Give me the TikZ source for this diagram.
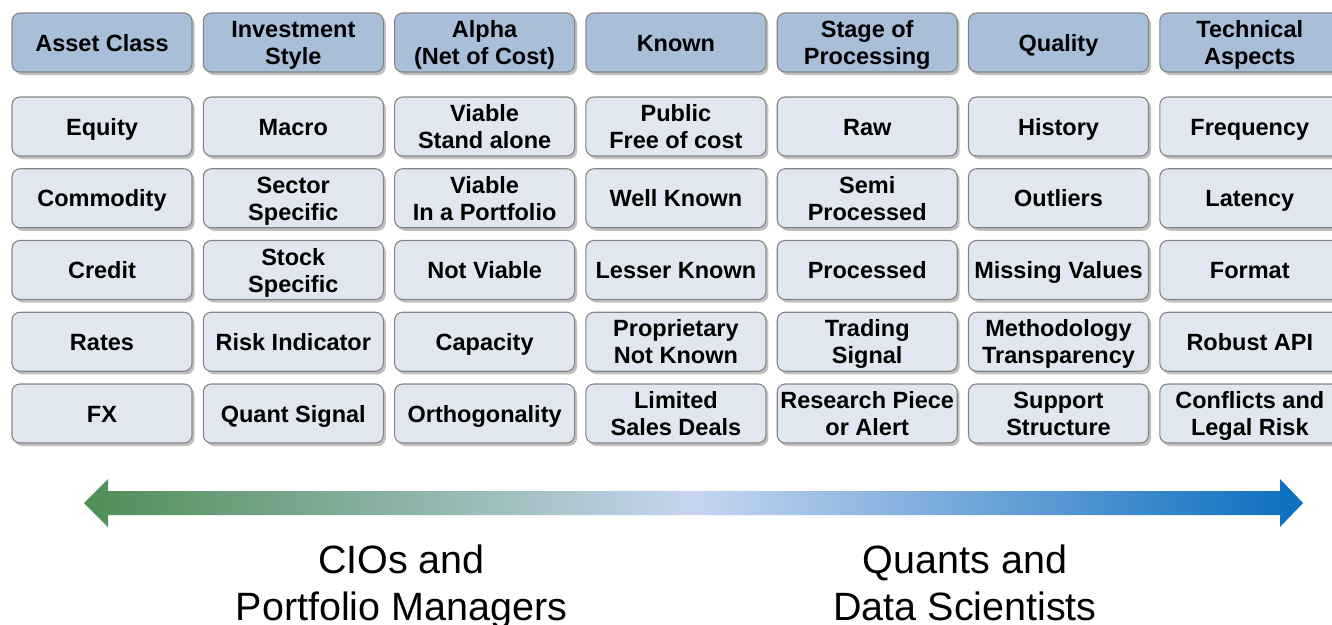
\documentclass[tikz,border=0pt]{standalone}
\usepackage{fontspec}
\setmainfont{Liberation Sans}
\usetikzlibrary{shadows}
\definecolor{hdrfill}{HTML}{A9BFD9}
\definecolor{bodyfill}{HTML}{E0E7F1}
\definecolor{boxline}{HTML}{858585}
\definecolor{arrL}{HTML}{4E8E56}
\definecolor{arrM}{HTML}{C6D5F0}
\definecolor{arrR}{HTML}{0A6EBF}
\newcommand\ls{\rule[-5pt]{0pt}{27pt}}
\newcommand\boxfont{\fontsize{23.5}{27}\selectfont\bfseries\lineskiplimit=-50pt\relax}
\tikzset{
  cellbox/.style={draw=boxline, line width=1.1pt, rounded corners=8pt,
    minimum width=180pt, minimum height=59pt, inner sep=0pt, align=center,
    font=\boxfont,
    drop shadow={shadow xshift=2.5pt, shadow yshift=-3pt, fill=black!55, opacity=0.45}},
  hdr/.style={cellbox, fill=hdrfill},
  body/.style={cellbox, fill=bodyfill},
  caption/.style={font=\fontsize{39.5}{46.5}\selectfont, align=center, inner sep=0pt}
}
\begin{document}
\begin{tikzpicture}[x=1pt,y=-1pt]
\useasboundingbox (0,0) rectangle (1332,624);
% headers
\node[hdr] (h1) at (102,42.5) {\ls Asset Class};
\node[hdr] (h2) at (293.3,42.5) {\ls Investment\\\ls Style};
\node[hdr] (h3) at (484.6,42.5) {\ls Alpha\\\ls (Net of Cost)};
\node[hdr] (h4) at (675.9,42.5) {\ls Known};
\node[hdr] (h5) at (867.2,42.5) {\ls Stage of\\\ls Processing};
\node[hdr] (h6) at (1058.5,42.5) {\ls Quality};
\node[hdr] (h7) at (1249.8,42.5) {\ls Technical\\\ls Aspects};
% row 1
\node[body] (r1c1) at (102,126.5) {\ls Equity};
\node[body] (r1c2) at (293.3,126.5) {\ls Macro};
\node[body] (r1c3) at (484.6,126.5) {\ls Viable\\\ls Stand alone};
\node[body] (r1c4) at (675.9,126.5) {\ls Public\\\ls Free of cost};
\node[body] (r1c5) at (867.2,126.5) {\ls Raw};
\node[body] (r1c6) at (1058.5,126.5) {\ls History};
\node[body] (r1c7) at (1249.8,126.5) {\ls Frequency};
% row 2
\node[body] (r2c1) at (102,198.25) {\ls Commodity};
\node[body] (r2c2) at (293.3,198.25) {\ls Sector\\\ls Specific};
\node[body] (r2c3) at (484.6,198.25) {\ls Viable\\\ls In a Portfolio};
\node[body] (r2c4) at (675.9,198.25) {\ls Well Known};
\node[body] (r2c5) at (867.2,198.25) {\ls Semi\\\ls Processed};
\node[body] (r2c6) at (1058.5,198.25) {\ls Outliers};
\node[body] (r2c7) at (1249.8,198.25) {\ls Latency};
% row 3
\node[body] (r3c1) at (102,270) {\ls Credit};
\node[body] (r3c2) at (293.3,270) {\ls Stock\\\ls Specific};
\node[body] (r3c3) at (484.6,270) {\ls Not Viable};
\node[body] (r3c4) at (675.9,270) {\ls Lesser Known};
\node[body] (r3c5) at (867.2,270) {\ls Processed};
\node[body] (r3c6) at (1058.5,270) {\ls Missing Values};
\node[body] (r3c7) at (1249.8,270) {\ls Format};
% row 4
\node[body] (r4c1) at (102,341.75) {\ls Rates};
\node[body] (r4c2) at (293.3,341.75) {\ls Risk Indicator};
\node[body] (r4c3) at (484.6,341.75) {\ls Capacity};
\node[body] (r4c4) at (675.9,341.75) {\ls Proprietary\\\ls Not Known};
\node[body] (r4c5) at (867.2,341.75) {\ls Trading\\\ls Signal};
\node[body] (r4c6) at (1058.5,341.75) {\ls Methodology\\\ls Transparency};
\node[body] (r4c7) at (1249.8,341.75) {\ls Robust API};
% row 5
\node[body] (r5c1) at (102,413.5) {\ls FX};
\node[body] (r5c2) at (293.3,413.5) {\ls Quant Signal};
\node[body] (r5c3) at (484.6,413.5) {\ls Orthogonality};
\node[body] (r5c4) at (675.9,413.5) {\ls Limited\\\ls Sales Deals};
\node[body] (r5c5) at (867.2,413.5) {\ls Research Piece\\\ls or Alert};
\node[body] (r5c6) at (1058.5,413.5) {\ls Support\\\ls Structure};
\node[body] (r5c7) at (1249.8,413.5) {\ls Conflicts and\\\ls Legal Risk};
% double arrow
\path[left color=arrL, right color=arrR, middle color=arrM, draw=none]
  (84,503) -- (108,479) -- (108,491) -- (1280,491) -- (1280,479) -- (1303,503)
  -- (1280,527) -- (1280,515) -- (108,515) -- (108,527) -- cycle;
% captions
\node[caption, anchor=base] (cio) at (401.5,620) {CIOs and\\Portfolio Managers};
\node[caption, anchor=base] (quant) at (965,620) {Quants and\\Data Scientists};
\end{tikzpicture}
\end{document}
